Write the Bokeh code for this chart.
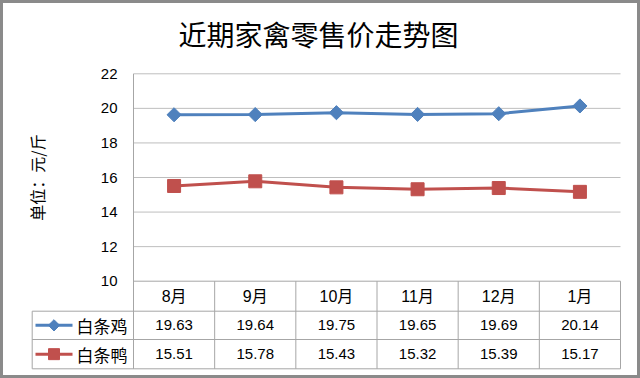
import numpy as np
from bokeh.plotting import figure
from bokeh.models import Range1d, LinearAxis, FixedTicker, Label
from bokeh.embed import file_html
from bokeh.resources import INLINE
from bokeh.core.properties import value

# ---- data ----
title_text = "近期家禽零售价走势图"
y_label = "单位：元/斤"
months = ["8月", "9月", "10月", "11月", "12月", "1月"]
chicken_name = "白条鸡"
duck_name = "白条鸭"
chicken = [19.63, 19.64, 19.75, 19.65, 19.69, 20.14]
duck = [15.51, 15.78, 15.43, 15.32, 15.39, 15.17]
y_ticks = [10, 12, 14, 16, 18, 20, 22]

# ---- layout (pixels) ----
W, H = 640, 378
PX_L, PX_R = 133, 620       # plot area left / right
PX_T, PX_B = 73.3, 280.7    # top tick / bottom tick
TBL_L = 31.7
ROW_Y = [280.7, 310.7, 339.0, 368.3]

n = len(months)
sx = (PX_R - PX_L) / n
x0 = -0.5 - PX_L / sx
x1 = x0 + W / sx
sy = (PX_B - PX_T) / (max(y_ticks) - min(y_ticks))
y1 = max(y_ticks) + PX_T / sy
y0 = y1 - H / sy

def xd(px):
    return x0 + px / sx

def yd(py):
    return y1 - py / sy

BLUE = "#4F81BD"
RED = "#C0504D"
GRID = "#BEBEBE"
TBL = "#A6A6A6"
NUM_FONT = value("Liberation Sans")
CJK_FONT = value("Liberation Sans, Noto Sans CJK SC")

p = figure(width=W, height=H, x_range=Range1d(x0, x1), y_range=Range1d(y0, y1),
           output_backend="svg", toolbar_location=None,
           x_axis_location=None, y_axis_location=None, min_border=0)
p.xgrid.visible = False
p.ygrid.visible = False
p.background_fill_color = "white"
p.border_fill_color = "white"
p.outline_line_color = "#8A8A8A"
p.outline_line_width = 5

# y axis at the plot-area left edge
yaxis = LinearAxis(fixed_location=-0.5, ticker=FixedTicker(ticks=y_ticks),
                   axis_line_color=None, major_tick_line_color=None,
                   minor_tick_line_color=None, major_tick_out=0, major_tick_in=0,
                   major_label_standoff=16, major_label_text_font_size="15px",
                   major_label_text_font="Liberation Sans", major_label_text_color="#000000")
p.add_layout(yaxis, "left")

xs = list(range(n))

# gridlines
grid_y = [t for t in y_ticks if t != min(y_ticks)]
p.segment(x0=[-0.5] * len(grid_y), y0=grid_y, x1=[n - 0.5] * len(grid_y), y1=grid_y,
          line_color=GRID, line_width=1)

# table lines
hx0 = [-0.5, xd(TBL_L), xd(TBL_L), xd(TBL_L)]
hy = [yd(v) for v in ROW_Y]
p.segment(x0=hx0, y0=hy, x1=[n - 0.5] * 4, y1=hy, line_color=TBL, line_width=1)
# left axis line continuing down through table
p.segment(x0=[-0.5], y0=[max(y_ticks)], x1=[-0.5], y1=[yd(ROW_Y[3])], line_color=TBL, line_width=1)
# column boundaries
cb = [i + 0.5 for i in range(n)]
p.segment(x0=cb, y0=[yd(ROW_Y[0])] * n, x1=cb, y1=[yd(ROW_Y[3])] * n, line_color=TBL, line_width=1)
p.segment(x0=[xd(TBL_L)], y0=[yd(ROW_Y[1])], x1=[xd(TBL_L)], y1=[yd(ROW_Y[3])], line_color=TBL, line_width=1)

# series
p.line(xs, chicken, line_color=BLUE, line_width=3)
p.scatter(xs, chicken, marker="square", angle=np.pi / 4, size=10, fill_color=BLUE, line_color=BLUE)
p.line(xs, duck, line_color=RED, line_width=3)
p.scatter(xs, duck, marker="square", size=13, fill_color=RED, line_color=RED)

# table contents
rc = [yd((ROW_Y[i] + ROW_Y[i + 1]) / 2) for i in range(3)]
p.text(xs, [rc[0]] * n, text=months, text_align="center", text_baseline="middle",
       text_font=CJK_FONT, text_font_size="16px", text_color="#000000")
p.text(xs, [rc[1]] * n, text=[f"{v:.2f}" for v in chicken], text_align="center",
       text_baseline="middle", text_font=NUM_FONT, text_font_size="15px", text_color="#000000")
p.text(xs, [rc[2]] * n, text=[f"{v:.2f}" for v in duck], text_align="center",
       text_baseline="middle", text_font=NUM_FONT, text_font_size="15px", text_color="#000000")

# legend keys in table
p.line([xd(35), xd(72)], [rc[1]] * 2, line_color=BLUE, line_width=3)
p.scatter([xd(53.5)], [rc[1]], marker="square", angle=np.pi / 4, size=8, fill_color=BLUE, line_color=BLUE)
p.line([xd(35), xd(72)], [rc[2]] * 2, line_color=RED, line_width=3)
p.scatter([xd(53.5)], [rc[2]], marker="square", size=11, fill_color=RED, line_color=RED)
p.text([xd(76)], [rc[1]], text=[chicken_name], text_align="left", text_baseline="middle",
       text_font=value("Noto Sans CJK SC"), text_font_size="17px", text_color="#000000")
p.text([xd(76)], [rc[2]], text=[duck_name], text_align="left", text_baseline="middle",
       text_font=value("Noto Sans CJK SC"), text_font_size="17px", text_color="#000000")

# title and y label
p.add_layout(Label(x=318, y=H - 33, x_units="screen", y_units="screen", text=title_text,
                   text_align="center", text_baseline="middle", text_font="Noto Sans CJK SC",
                   text_font_size="28px", text_color="#000000"))
p.add_layout(Label(x=36, y=H - (PX_T + PX_B) / 2, x_units="screen", y_units="screen",
                   text=y_label, angle=np.pi / 2, text_align="center", text_baseline="middle",
                   text_font="Noto Sans CJK SC", text_font_size="16px", text_color="#000000"))

open("out.html", "w").write(file_html(p, INLINE))
